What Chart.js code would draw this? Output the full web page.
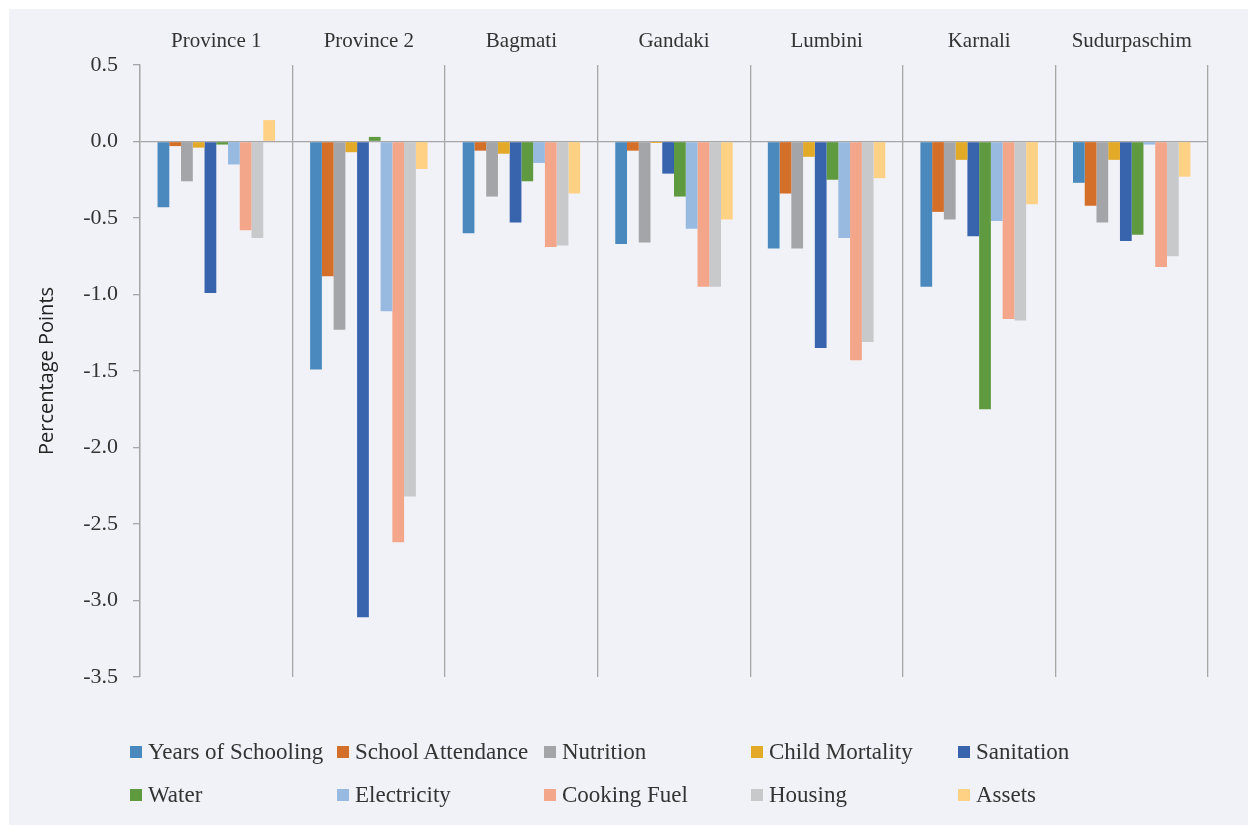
<!DOCTYPE html>
<html>
<head>
<meta charset="utf-8">
<script src="https://cdn.jsdelivr.net/npm/chart.js@4/dist/chart.umd.min.js"></script>
<style>
  html, body { margin: 0; padding: 0; background: #fff; }
  #wrap { position: relative; width: 1248px; height: 825px; }
  #chart { position: absolute; left: 0; top: 0; }
  #legend {
    position: absolute; left: 130px; top: 736px;
    display: grid; grid-template-columns: repeat(5, 207px); row-gap: 11px;
    font-family: "Liberation Serif", "DejaVu Serif", serif; font-size: 23px; color: #333;
  }
  #legend div { display: flex; align-items: center; height: 32px; white-space: nowrap; }
  #legend span.box { width: 12px; height: 12px; margin-right: 6px; display: inline-block; }
</style>
</head>
<body>
<div id="wrap">
  <canvas id="chart" width="1248" height="825"></canvas>
  <div id="legend"></div>
</div>
<script>
const provinces = ['Province 1', 'Province 2', 'Bagmati', 'Gandaki', 'Lumbini', 'Karnali', 'Sudurpaschim'];

const seriesNames = ['Years of Schooling', 'School Attendance', 'Nutrition', 'Child Mortality', 'Sanitation',
  'Water', 'Electricity', 'Cooking Fuel', 'Housing', 'Assets'];

const seriesColors = ['#4a89bd', '#d46f2a', '#a4a5a8', '#e3aa28', '#3864ad',
  '#5f9a41', '#98bae0', '#f3a689', '#c8c9cb', '#ffd185'];

// one array per indicator, in province order
const yearsOfSchooling = [-0.43, -1.49, -0.60, -0.67, -0.70, -0.95, -0.27];
const schoolAttendance = [-0.03, -0.88, -0.06, -0.06, -0.34, -0.46, -0.42];
const nutrition        = [-0.26, -1.23, -0.36, -0.66, -0.70, -0.51, -0.53];
const childMortality   = [-0.04, -0.07, -0.08, -0.01, -0.10, -0.12, -0.12];
const sanitation       = [-0.99, -3.11, -0.53, -0.21, -1.35, -0.62, -0.65];
const water            = [-0.02,  0.03, -0.26, -0.36, -0.25, -1.75, -0.61];
const electricity      = [-0.15, -1.11, -0.14, -0.57, -0.63, -0.52, -0.02];
const cookingFuel      = [-0.58, -2.62, -0.69, -0.95, -1.43, -1.16, -0.82];
const housing          = [-0.63, -2.32, -0.68, -0.95, -1.31, -1.17, -0.75];
const assets           = [ 0.14, -0.18, -0.34, -0.51, -0.24, -0.41, -0.23];

const seriesValues = [yearsOfSchooling, schoolAttendance, nutrition, childMortality, sanitation,
  water, electricity, cookingFuel, housing, assets];

const yTicks = [0.5, 0.0, -0.5, -1.0, -1.5, -2.0, -2.5, -3.0, -3.5];

const serif = '"Liberation Serif", "DejaVu Serif", serif';
const axisGrey = '#a6a6a6';

// page background panel
const panelBg = {
  id: 'panelBg',
  beforeDraw(chart) {
    const c = chart.ctx;
    c.save();
    c.fillStyle = '#f1f2f8';
    c.fillRect(9, 9, chart.width - 9, chart.height - 9);
    c.restore();
  }
};

new Chart(document.getElementById('chart'), {
  type: 'bar',
  data: {
    labels: provinces,
    datasets: seriesNames.map((name, i) => ({
      label: name,
      data: seriesValues[i],
      backgroundColor: seriesColors[i],
      borderWidth: 0,
      categoryPercentage: 0.77,
      barPercentage: 1.0
    }))
  },
  options: {
    responsive: false,
    animation: false,
    layout: { padding: { left: 9, right: 40, top: 0, bottom: 148 } },
    plugins: {
      legend: { display: false },
      tooltip: { enabled: false }
    },
    scales: {
      x: {
        position: 'top',
        grid: { offset: true, color: axisGrey, lineWidth: 1.3, drawTicks: false },
        border: { display: false },
        ticks: { font: { family: serif, size: 21 }, color: '#333', padding: 11, maxRotation: 0 },
        afterFit: s => { s.height = 65; }
      },
      y: {
        min: -3.5,
        max: 0.5,
        afterBuildTicks: s => { s.ticks = yTicks.map(v => ({ value: v })); },
        ticks: {
          font: { family: serif, size: 22 },
          color: '#333',
          padding: 15,
          callback: v => v.toFixed(1)
        },
        grid: {
          color: ctx => (ctx.tick && ctx.tick.value === 0 ? axisGrey : 'transparent'),
          lineWidth: 1.3,
          tickColor: axisGrey,
          tickLength: 7
        },
        border: { color: axisGrey, width: 1.3 },
        title: {
          display: true,
          text: 'Percentage Points',
          font: { family: '"Open Sans", "Noto Sans", sans-serif', size: 20 },
          color: '#222',
          padding: { top: 26, bottom: 0 }
        },
        afterFit: s => { s.width = 131; }
      }
    }
  },
  plugins: [panelBg]
});

// legend grid, 5 columns x 2 rows
const legend = document.getElementById('legend');
seriesNames.forEach((name, i) => {
  const item = document.createElement('div');
  item.innerHTML = '<span class="box" style="background:' + seriesColors[i] + '"></span>' + name;
  legend.appendChild(item);
});
</script>
</body>
</html>
